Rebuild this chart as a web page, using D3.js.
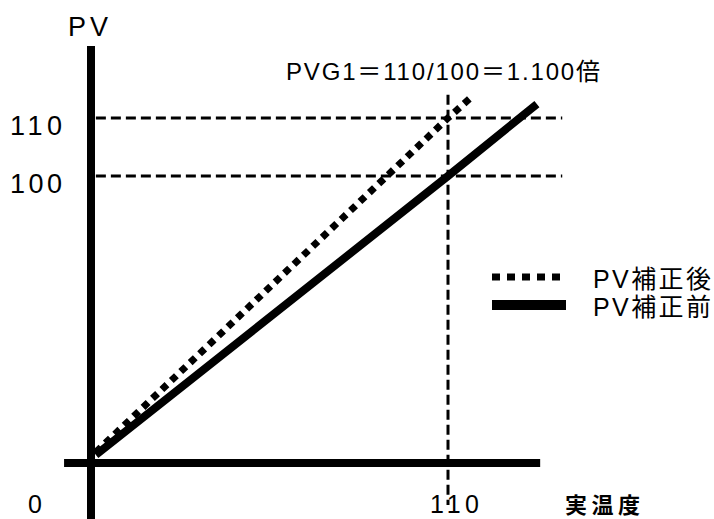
<!DOCTYPE html>
<meta charset="utf-8">
<script src="https://d3js.org/d3.v7.min.js"></script>
<style>
  body { margin: 0; background: #fff; }
  text { font-family: "Liberation Sans", Arial, "Noto Sans CJK JP", sans-serif; fill: #000; }
  .narrow { font-family: "Liberation Sans Narrow", "Liberation Sans", Arial, "Noto Sans CJK JP", sans-serif; }
</style>
<body>
<div id="chart"></div>
<script>
var xTicks = [0, 110];
var yTicks = [100, 110];
var afterCorrection = [[1.5, 3.8], [110, 110], [116.8, 113.4]];    // PV補正後
var beforeCorrection = [[1.5, 2.8], [110, 100], [137.4, 112.4]];   // PV補正前
var legendLabels = ["PV補正後", "PV補正前"];
var title = "PVG1＝110/100＝1.100倍";
var xLabel = "実温度";
var yLabel = "PV";

var width = 714, height = 519;

var svg = d3.select("#chart")
  .append("svg")
    .attr("width", width)
    .attr("height", height);

svg.append("rect").attr("width", width).attr("height", height).attr("fill", "#fff");

// schematic scales (the drawing is not strictly linear in PV)
var x = d3.scaleLinear().domain([0, 110]).range([91, 448]);
var y = d3.scaleLinear().domain([0, 100, 110]).range([463, 176, 118]);

// dashed guide lines
svg.selectAll("hguide")
  .data(yTicks)
  .enter()
  .append("line")
    .attr("x1", x(1.5))
    .attr("x2", x(145.2))
    .attr("y1", function(d) { return y(d); })
    .attr("y2", function(d) { return y(d); })
    .attr("stroke", "#000")
    .attr("stroke-width", 3)
    .attr("stroke-dasharray", "10,5");

svg.append("line")
  .attr("x1", x(110)).attr("x2", x(110))
  .attr("y1", y(114)).attr("y2", y(0) + 42)
  .attr("stroke", "#000")
  .attr("stroke-width", 3)
  .attr("stroke-dasharray", "10,5");

// axes
svg.append("line")
  .attr("x1", x(0)).attr("x2", x(0))
  .attr("y1", y(122.4)).attr("y2", height)
  .attr("stroke", "#000").attr("stroke-width", 8);

svg.append("line")
  .attr("x1", x(-8.3)).attr("x2", x(138.4))
  .attr("y1", y(0)).attr("y2", y(0))
  .attr("stroke", "#000").attr("stroke-width", 8);

// lines
var line = d3.line()
  .x(function(d) { return x(d[0]); })
  .y(function(d) { return y(d[1]); });

svg.append("path")
  .datum(beforeCorrection)
  .attr("d", line)
  .attr("fill", "none")
  .attr("stroke", "#000")
  .attr("stroke-width", 8);

svg.append("path")
  .datum(afterCorrection)
  .attr("d", line)
  .attr("fill", "none")
  .attr("stroke", "#000")
  .attr("stroke-width", 7)
  .attr("stroke-dasharray", "7,6");

// tick labels
svg.selectAll("ylab")
  .data(yTicks)
  .enter()
  .append("text")
    .attr("x", 10)
    .attr("y", function(d) { return y(d) + 17; })
    .attr("font-size", 27)
    .attr("textLength", 52)
    .attr("lengthAdjust", "spacing")
    .text(function(d) { return d; });

svg.append("text")
  .attr("x", 28)
  .attr("y", y(0) + 50)
  .attr("font-size", 25)
  .text(xTicks[0]);

svg.append("text")
  .attr("x", x(xTicks[1]) - 18)
  .attr("y", y(0) + 50)
  .attr("font-size", 25)
  .attr("textLength", 49)
  .attr("lengthAdjust", "spacing")
  .text(xTicks[1]);

svg.append("text")
  .attr("x", 565)
  .attr("y", y(0) + 50)
  .attr("font-size", 22)
  .attr("font-weight", "bold")
  .attr("textLength", 75)
  .attr("lengthAdjust", "spacing")
  .text(xLabel);

svg.append("text")
  .attr("x", 68)
  .attr("y", 36)
  .attr("font-size", 27)
  .attr("textLength", 40)
  .attr("lengthAdjust", "spacing")
  .text(yLabel);

svg.append("text")
  .attr("class", "narrow")
  .attr("x", 286)
  .attr("y", 80)
  .attr("font-size", 24)
  .attr("textLength", 314)
  .attr("lengthAdjust", "spacing")
  .text(title);

// legend
var legend = svg.append("g").attr("transform", "translate(492,277)");
legend.append("line")
  .attr("x1", 0).attr("x2", 68)
  .attr("y1", 0).attr("y2", 0)
  .attr("stroke", "#000").attr("stroke-width", 7)
  .attr("stroke-dasharray", "8,7");
legend.append("line")
  .attr("x1", 0).attr("x2", 74)
  .attr("y1", 28).attr("y2", 28)
  .attr("stroke", "#000").attr("stroke-width", 10);
legend.selectAll("ltext")
  .data(legendLabels)
  .enter()
  .append("text")
    .attr("x", 101)
    .attr("y", function(d, i) { return 11 + i * 28; })
    .attr("font-size", 25)
    .attr("textLength", 118)
    .attr("lengthAdjust", "spacing")
    .text(function(d) { return d; });
</script>
</body>
